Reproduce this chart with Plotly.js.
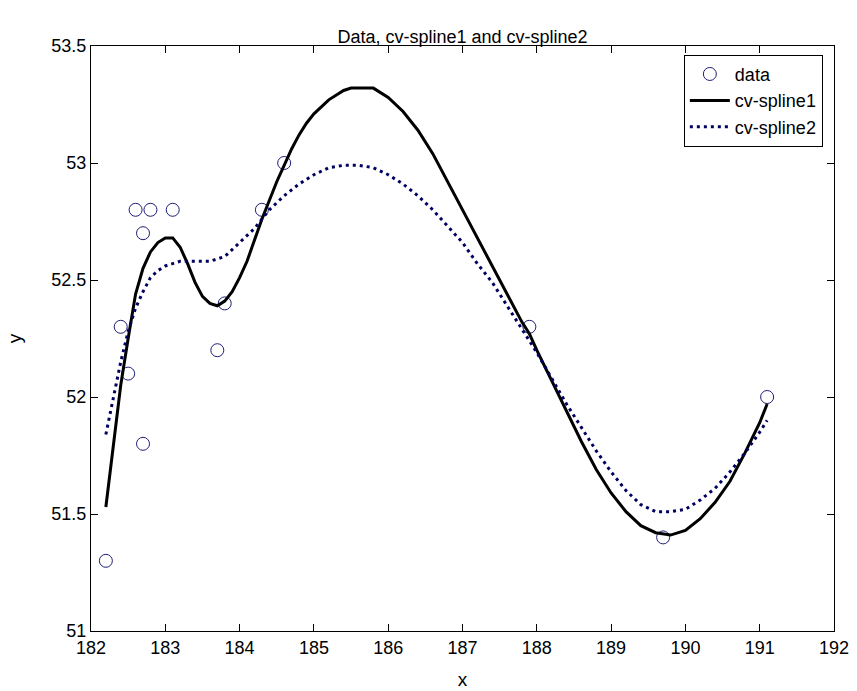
<!DOCTYPE html>
<html>
<head>
<meta charset="utf-8">
<script src="https://cdn.plot.ly/plotly-3.0.1.min.js"></script>
<style>html,body{margin:0;padding:0;background:#fff;}#chart{width:857px;height:691px;}</style>
</head>
<body>
<div id="chart"></div>
<script>
// Data points
const dataX = [182.2, 182.4, 182.5, 182.6, 182.7, 182.7, 182.8, 183.1, 183.7, 183.8, 184.3, 184.6, 187.9, 189.7, 191.1];
const dataY = [51.3, 52.3, 52.1, 52.8, 52.7, 51.8, 52.8, 52.8, 52.2, 52.4, 52.8, 53.0, 52.3, 51.4, 52.0];

// cv-spline1 (solid)
const s1X = [182.2, 182.3, 182.4, 182.5, 182.6, 182.7, 182.8, 182.9, 183.0, 183.1, 183.2, 183.3, 183.4, 183.5, 183.6, 183.7, 183.8, 183.9, 184.0, 184.1, 184.2, 184.3, 184.4, 184.5, 184.6, 184.7, 184.8, 184.9, 185.0, 185.2, 185.4, 185.5, 185.8, 186.0, 186.2, 186.4, 186.6, 186.8, 187.0, 187.2, 187.4, 187.6, 187.8, 187.9, 188.0, 188.2, 188.4, 188.6, 188.8, 189.0, 189.2, 189.4, 189.6, 189.8, 190.0, 190.2, 190.4, 190.6, 190.8, 191.0, 191.1];
const s1Y = [51.53, 51.80, 52.05, 52.25, 52.44, 52.55, 52.62, 52.66, 52.68, 52.68, 52.64, 52.57, 52.49, 52.43, 52.40, 52.39, 52.41, 52.45, 52.51, 52.58, 52.67, 52.76, 52.84, 52.92, 52.99, 53.06, 53.12, 53.17, 53.21, 53.27, 53.31, 53.32, 53.32, 53.28, 53.22, 53.14, 53.04, 52.92, 52.80, 52.68, 52.56, 52.44, 52.32, 52.27, 52.20, 52.07, 51.94, 51.81, 51.69, 51.59, 51.51, 51.45, 51.42, 51.41, 51.43, 51.48, 51.55, 51.64, 51.76, 51.89, 51.97];

// cv-spline2 (dotted)
const s2X = [182.2, 182.3, 182.4, 182.5, 182.6, 182.7, 182.8, 182.9, 183.0, 183.2, 183.4, 183.6, 183.8, 184.0, 184.2, 184.4, 184.6, 184.8, 185.0, 185.2, 185.4, 185.6, 185.8, 186.0, 186.2, 186.4, 186.6, 186.8, 187.0, 187.2, 187.4, 187.6, 187.8, 188.0, 188.2, 188.4, 188.6, 188.8, 189.0, 189.2, 189.4, 189.6, 189.8, 190.0, 190.2, 190.4, 190.6, 190.8, 191.0, 191.1];
const s2Y = [51.84, 52.00, 52.15, 52.28, 52.38, 52.45, 52.51, 52.54, 52.56, 52.58, 52.58, 52.58, 52.60, 52.66, 52.72, 52.80, 52.86, 52.91, 52.95, 52.98, 52.99, 52.99, 52.98, 52.95, 52.91, 52.86, 52.80, 52.73, 52.66, 52.57, 52.49, 52.39, 52.29, 52.19, 52.08, 51.97, 51.87, 51.77, 51.68, 51.60, 51.54, 51.51, 51.51, 51.52, 51.56, 51.61, 51.68, 51.76, 51.85, 51.90];

const xTicks = [182, 183, 184, 185, 186, 187, 188, 189, 190, 191, 192];
const yTicks = [51, 51.5, 52, 52.5, 53, 53.5];

const FONT = 'Liberation Sans, Arial, Helvetica, sans-serif';

const traces = [
  {x: dataX, y: dataY, name: 'data', type: 'scatter', mode: 'markers',
   marker: {symbol: 'circle-open', size: 13, color: '#1e1e78', line: {width: 1, color: '#1e1e78'}}},
  {x: s1X, y: s1Y, name: 'cv-spline1', type: 'scatter', mode: 'lines',
   line: {color: '#000000', width: 3}},
  {x: s2X, y: s2Y, name: 'cv-spline2', type: 'scatter', mode: 'lines',
   line: {color: '#000060', width: 3, dash: '3px,4px'}}
];

const axisCommon = {
  showgrid: false, zeroline: false, showline: true, linecolor: '#000', linewidth: 1,
  mirror: 'ticks', ticks: 'inside', ticklen: 7, tickcolor: '#000', tickwidth: 1,
  tickfont: {family: FONT, size: 18, color: '#000'}
};

const layout = {
  width: 857, height: 691,
  margin: {l: 91, r: 23, t: 46, b: 60, pad: 0},
  paper_bgcolor: '#fff', plot_bgcolor: '#fff',
  title: {text: 'Data, cv-spline1 and cv-spline2', font: {family: FONT, size: 18, color: '#000'},
          x: 0.5, xanchor: 'center', y: 1 - 37/691, yanchor: 'middle', xref: 'paper'},
  xaxis: Object.assign({}, axisCommon, {range: [182, 192], tickvals: xTicks, ticktext: xTicks.map(String),
    title: {text: 'x', font: {family: FONT, size: 19, color: '#000'}, standoff: 16}}),
  yaxis: Object.assign({}, axisCommon, {range: [51, 53.5], tickvals: yTicks, ticktext: yTicks.map(String),
    title: {text: 'y', font: {family: FONT, size: 19, color: '#000'}, standoff: 24}}),
  showlegend: true,
  legend: {x: 0.985, xanchor: 'right', y: 0.985, yanchor: 'top', bgcolor: '#fff',
    bordercolor: '#000', borderwidth: 1, font: {family: FONT, size: 18, color: '#000'},
    tracegroupgap: 0, itemwidth: 40}
};

Plotly.newPlot('chart', traces, layout, {displayModeBar: false, staticPlot: true});
</script>
</body>
</html>
